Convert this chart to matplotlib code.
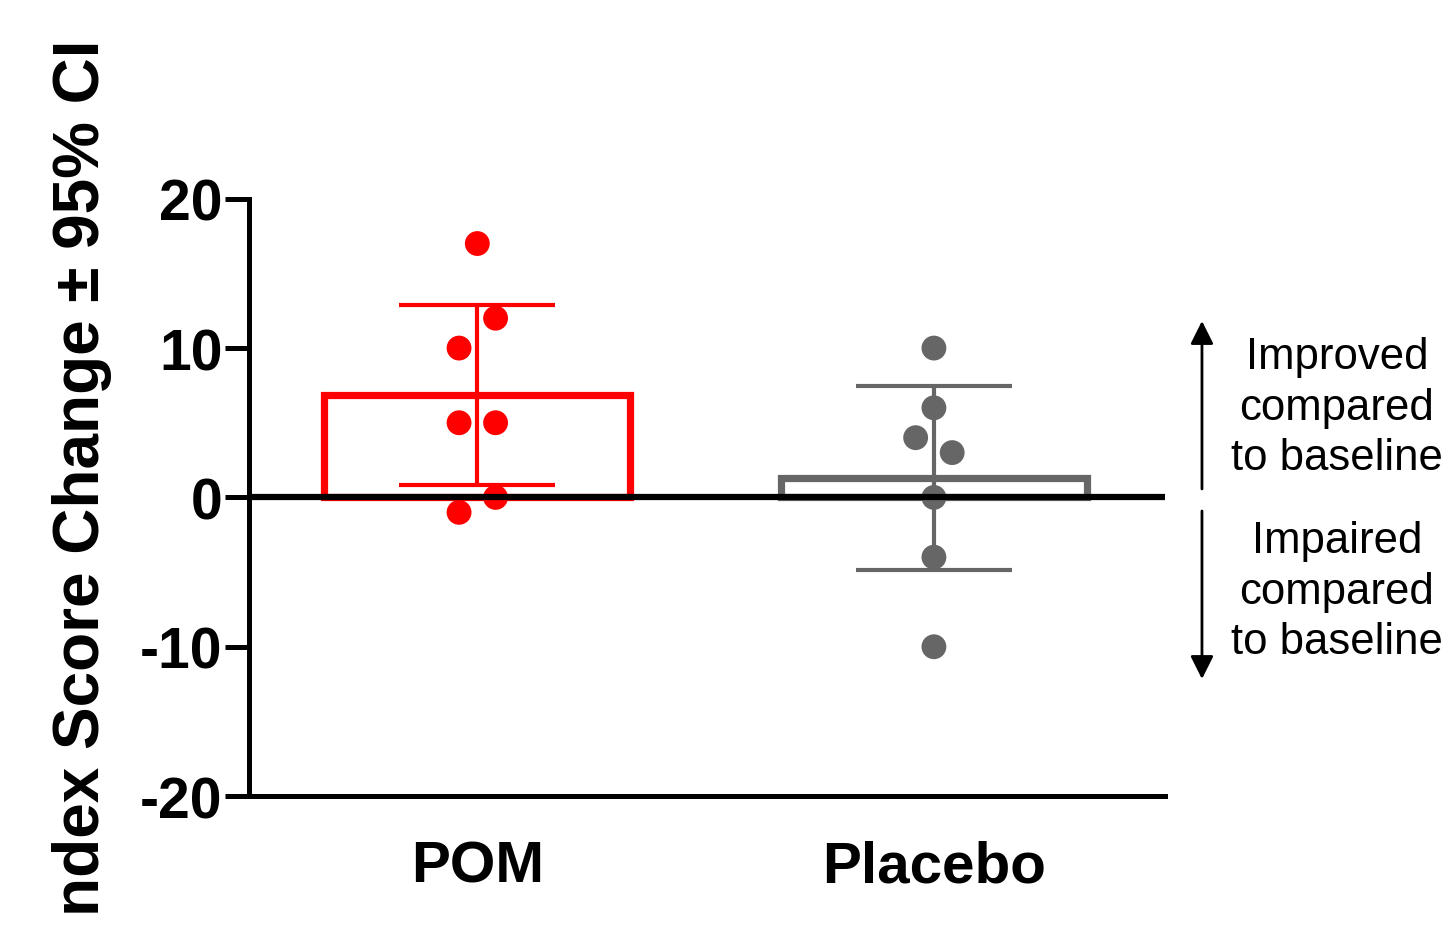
import matplotlib.pyplot as plt

plt.rcParams['font.family'] = ['Liberation Sans', 'DejaVu Sans']

# groups and summary values (mean and 95% CI)
groups = ['POM', 'Placebo']
means = [6.86, 1.29]
ci_low = [0.83, -4.86]
ci_high = [12.88, 7.44]
colors = ['#ff0000', '#666666']

# individual subject scores
pom_scores = [17, 12, 10, 5, 5, 0, -1]
placebo_scores = [10, 6, 4, 3, 0, -4, -10]
# small horizontal spread of the dots
pom_jitter = [0, 0.04, -0.04, -0.04, 0.04, 0.04, -0.04]
placebo_jitter = [0, 0, -0.04, 0.04, 0, 0, 0]

yticks = [-20, -10, 0, 10, 20]

fig = plt.figure(figsize=(14.52, 9.29), dpi=100)
ax = fig.add_axes([0.1715, 0.142, 0.6305, 0.643])

xpos = list(range(len(groups)))

# hollow bars
ax.bar(xpos, means, width=0.67, fill=False, edgecolor=colors,
       linewidth=5.2, zorder=2)

# error bars
for i in xpos:
    eb = ax.errorbar(i, means[i],
                     yerr=[[means[i] - ci_low[i]], [ci_high[i] - means[i]]],
                     fmt='none', ecolor=colors[i], elinewidth=3,
                     capsize=56, capthick=3, zorder=3)
    for ln in eb.lines[1]:
        ln.set_solid_capstyle('round')

# dots
ax.scatter([0 + j for j in pom_jitter], pom_scores, s=320,
           color=colors[0], edgecolors='none', zorder=4)
ax.scatter([1 + j for j in placebo_jitter], placebo_scores, s=320,
           color=colors[1], edgecolors='none', zorder=4)

# baseline
ax.axhline(0, color='black', linewidth=4.5, zorder=5)

ax.set_xlim(-0.5, 1.505)
ax.set_ylim(-20, 20)
ax.set_yticks(yticks)
ax.set_yticklabels([str(t) for t in yticks], fontsize=41, fontweight='bold')
ax.set_xticks(xpos)
ax.set_xticklabels(groups, fontsize=42, fontweight='bold')
ax.tick_params(axis='y', length=17, width=3.6, pad=2)
ax.tick_params(axis='x', length=0, pad=31)

for s in ['top', 'right']:
    ax.spines[s].set_visible(False)
for s in ['left', 'bottom']:
    ax.spines[s].set_linewidth(3.6)

# y label - only the visible part of the original label
fig.text(0.0565, 1 - 40 / 929, 'ndex Score Change \u00b1 95% CI',
         rotation=90, ha='center', va='top', fontsize=46, fontweight='bold')

# direction arrows on the right
ax.annotate('', xy=(0.8278, 0.6534), xytext=(0.8278, 0.4726),
            xycoords='figure fraction', textcoords='figure fraction',
            arrowprops=dict(arrowstyle='-|>', lw=2, color='black',
                            mutation_scale=35, shrinkA=0, shrinkB=0))
ax.annotate('', xy=(0.8278, 0.268), xytext=(0.8278, 0.4489),
            xycoords='figure fraction', textcoords='figure fraction',
            arrowprops=dict(arrowstyle='-|>', lw=2, color='black',
                            mutation_scale=35, shrinkA=0, shrinkB=0))

fig.text(0.9208, 0.5608, 'Improved\ncompared\nto baseline', ha='center',
         va='center', fontsize=31.5, linespacing=1.3)
fig.text(0.9208, 0.3627, 'Impaired\ncompared\nto baseline', ha='center',
         va='center', fontsize=31.5, linespacing=1.3)

fig.savefig('out.png', dpi=100)
